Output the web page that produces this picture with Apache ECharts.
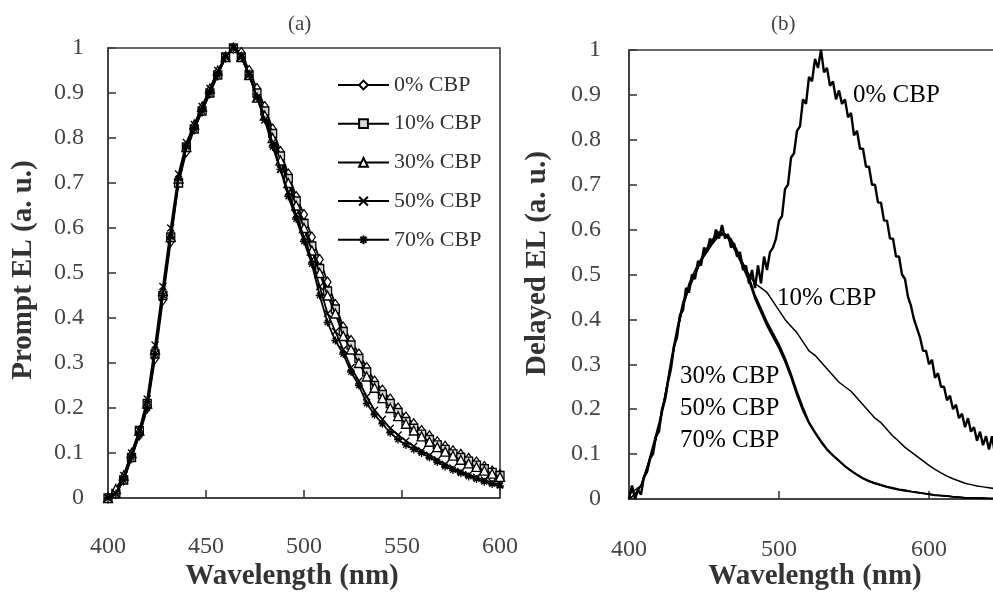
<!DOCTYPE html>
<html>
<head>
<meta charset="utf-8">
<script src="https://cdn.jsdelivr.net/npm/echarts@6/dist/echarts.min.js"></script>
<style>
  html, body { margin: 0; padding: 0; background: #fff; }
  #chart { width: 993px; height: 592px; }
</style>
</head>
<body>
<div id="chart"></div>
<script>
// ---------- Panel (a): prompt EL spectra, sampled every 4 nm ----------
const wlPrompt = [400,404,408,412,416,420,424,428,432,436,440,444,448,452,456,460,464,468,472,476,480,484,488,492,496,500,504,508,512,516,520,524,528,532,536,540,544,548,552,556,560,564,568,572,576,580,584,588,592,596,600];

const prompt0 = [0.00,0.01,0.04,0.09,0.14,0.20,0.31,0.44,0.57,0.70,0.77,0.82,0.86,0.90,0.94,0.98,1.00,0.99,0.95,0.91,0.87,0.82,0.77,0.72,0.67,0.63,0.58,0.53,0.48,0.43,0.38,0.35,0.32,0.29,0.26,0.24,0.22,0.20,0.18,0.165,0.15,0.138,0.125,0.115,0.105,0.097,0.088,0.08,0.07,0.06,0.052];
const prompt10 = [0.00,0.01,0.04,0.09,0.15,0.21,0.32,0.45,0.58,0.70,0.78,0.82,0.86,0.90,0.94,0.98,1.00,0.98,0.94,0.90,0.86,0.81,0.76,0.71,0.66,0.61,0.56,0.51,0.46,0.42,0.37,0.34,0.31,0.28,0.25,0.23,0.21,0.19,0.17,0.155,0.142,0.13,0.118,0.108,0.098,0.09,0.082,0.073,0.065,0.057,0.05];
const prompt30 = [0.00,0.02,0.05,0.10,0.15,0.21,0.33,0.46,0.58,0.71,0.78,0.83,0.87,0.91,0.95,0.98,1.00,0.98,0.94,0.89,0.85,0.80,0.75,0.70,0.65,0.60,0.55,0.50,0.45,0.41,0.36,0.33,0.30,0.27,0.245,0.222,0.20,0.182,0.165,0.15,0.137,0.125,0.113,0.103,0.094,0.085,0.077,0.069,0.061,0.054,0.047];
const prompt50 = [0.00,0.01,0.05,0.10,0.15,0.22,0.34,0.47,0.60,0.72,0.79,0.83,0.87,0.91,0.95,0.98,1.00,0.98,0.94,0.89,0.84,0.79,0.73,0.68,0.63,0.58,0.53,0.47,0.41,0.37,0.33,0.29,0.26,0.225,0.195,0.175,0.155,0.14,0.127,0.115,0.105,0.095,0.085,0.075,0.067,0.059,0.052,0.046,0.04,0.035,0.03];
const prompt70 = [0.00,0.01,0.04,0.09,0.14,0.20,0.32,0.45,0.58,0.71,0.78,0.82,0.86,0.90,0.94,0.98,1.00,0.98,0.94,0.89,0.84,0.78,0.73,0.67,0.62,0.57,0.52,0.45,0.39,0.35,0.32,0.28,0.25,0.21,0.185,0.165,0.145,0.13,0.118,0.108,0.10,0.09,0.08,0.07,0.062,0.055,0.048,0.042,0.036,0.031,0.027];

// ---------- Panel (b): delayed EL spectra ----------
const wlDelayed = [400,404,408,412,416,420,424,428,432,436,440,444,448,452,456,460,464,468,472,476,480,484,488,492,496,500,504,508,512,516,520,524,528,532,536,540,544,548,552,556,560,564,568,572,576,580,584,588,592,596,600,604,608,612,616,620,624,628,632,636,640,644,648];

const delayed10 = [0.00,0.01,0.03,0.07,0.11,0.16,0.23,0.30,0.37,0.43,0.47,0.50,0.53,0.555,0.575,0.59,0.59,0.575,0.55,0.525,0.50,0.48,0.47,0.46,0.44,0.42,0.40,0.385,0.37,0.35,0.33,0.32,0.305,0.29,0.275,0.26,0.25,0.24,0.225,0.21,0.195,0.18,0.17,0.155,0.14,0.128,0.115,0.105,0.095,0.085,0.075,0.066,0.058,0.051,0.045,0.04,0.035,0.032,0.029,0.027,0.025,0.023,0.022];
const delayed30 = [0.00,0.01,0.03,0.07,0.11,0.16,0.23,0.30,0.37,0.43,0.47,0.50,0.53,0.555,0.575,0.59,0.59,0.575,0.55,0.52,0.49,0.45,0.42,0.39,0.365,0.34,0.31,0.275,0.235,0.20,0.17,0.148,0.128,0.11,0.097,0.085,0.073,0.063,0.054,0.046,0.04,0.035,0.031,0.027,0.024,0.021,0.019,0.017,0.015,0.013,0.011,0.009,0.008,0.006,0.005,0.004,0.003,0.003,0.002,0.002,0.001,0.001,0.001];
const delayed50 = [0.00,0.01,0.03,0.06,0.11,0.16,0.22,0.30,0.37,0.43,0.48,0.51,0.535,0.56,0.58,0.595,0.59,0.57,0.545,0.515,0.485,0.445,0.415,0.385,0.36,0.335,0.305,0.27,0.23,0.195,0.168,0.146,0.126,0.109,0.096,0.084,0.072,0.062,0.053,0.045,0.039,0.034,0.03,0.026,0.023,0.02,0.018,0.016,0.014,0.012,0.01,0.008,0.007,0.006,0.005,0.004,0.003,0.002,0.002,0.001,0.001,0.001,0.001];
const delayed70 = [0.01,0.02,0.03,0.07,0.12,0.17,0.23,0.31,0.38,0.44,0.47,0.50,0.53,0.55,0.57,0.585,0.59,0.58,0.555,0.525,0.495,0.455,0.425,0.395,0.37,0.345,0.315,0.28,0.24,0.205,0.172,0.15,0.13,0.112,0.098,0.086,0.074,0.064,0.055,0.047,0.041,0.036,0.032,0.028,0.025,0.022,0.02,0.017,0.015,0.013,0.011,0.009,0.008,0.007,0.005,0.004,0.003,0.003,0.002,0.002,0.001,0.001,0.001];

// 0% CBP delayed trace, sampled every 2 nm (noisy)
const wlDelayed0 = [400,402,404,406,408,410,412,414,416,418,420,422,424,426,428,430,432,434,436,438,440,442,444,446,448,450,452,454,456,458,460,462,464,466,468,470,472,474,476,478,480,482,484,486,488,490,492,494,496,498,500,502,504,506,508,510,512,514,516,518,520,522,524,526,528,530,532,534,536,538,540,542,544,546,548,550,552,554,556,558,560,562,564,566,568,570,572,574,576,578,580,582,584,586,588,590,592,594,596,598,600,602,604,606,608,610,612,614,616,618,620,622,624,626,628,630,632,634,636,638,640,642,644,646,648,650];
const delayed0 = [0.00,0.03,0.00,0.02,0.01,0.05,0.06,0.09,0.10,0.14,0.15,0.20,0.22,0.26,0.29,0.34,0.36,0.41,0.42,0.47,0.46,0.50,0.49,0.53,0.52,0.56,0.55,0.58,0.57,0.60,0.58,0.61,0.58,0.59,0.56,0.57,0.54,0.55,0.51,0.52,0.48,0.51,0.47,0.52,0.48,0.54,0.51,0.55,0.56,0.58,0.62,0.63,0.69,0.70,0.76,0.77,0.82,0.83,0.89,0.88,0.94,0.93,0.98,0.96,1.00,0.95,0.96,0.92,0.93,0.89,0.91,0.88,0.89,0.85,0.86,0.81,0.82,0.78,0.78,0.74,0.74,0.70,0.70,0.66,0.66,0.62,0.62,0.58,0.58,0.54,0.54,0.50,0.49,0.45,0.43,0.40,0.38,0.36,0.33,0.33,0.30,0.31,0.27,0.28,0.25,0.25,0.22,0.23,0.20,0.21,0.18,0.19,0.16,0.18,0.15,0.16,0.13,0.15,0.12,0.14,0.11,0.14,0.10,0.13,0.10,0.12];

const promptNames = ['0% CBP', '10% CBP', '30% CBP', '50% CBP', '70% CBP'];
const delayedLabels = ['0% CBP', '10% CBP', '30% CBP', '50% CBP', '70% CBP'];
const xTitle = 'Wavelength (nm)';

const SERIF = 'Liberation Serif';
const AXIS_GREY = '#3a3a3a';
const LABEL_GREY = '#444';

const pairs = (xs, ys) => xs.map((x, i) => [x, ys[i]]);

// marker shapes for the prompt spectra
const crossPath = 'path://M0,0L10,10M10,0L0,10';
const asteriskPath = 'path://M5,0L5,10M0,5L10,5M1.5,1.5L8.5,8.5M8.5,1.5L1.5,8.5';

const promptStyles = [
  { symbol: 'diamond',   fill: '#fff', size: [7, 10] },
  { symbol: 'rect',      fill: '#d8d8d8', size: 8 },
  { symbol: 'triangle',  fill: '#fff', size: 9 },
  { symbol: crossPath,   fill: '#000', size: 7 },
  { symbol: asteriskPath, fill: '#000', size: 8 }
];
const promptData = [prompt0, prompt10, prompt30, prompt50, prompt70];

function axisCommon(gridIndex) {
  return {
    gridIndex: gridIndex,
    axisLine: { show: true, onZero: false, lineStyle: { color: AXIS_GREY, width: 1.6 } },
    axisTick: { show: true, inside: true, length: 8, lineStyle: { color: AXIS_GREY, width: 1.6 } },
    splitLine: { show: false }
  };
}

const series = [];
promptNames.forEach((name, i) => {
  const st = promptStyles[i];
  series.push({
    name: name,
    type: 'line',
    xAxisIndex: 0, yAxisIndex: 0,
    data: pairs(wlPrompt, promptData[i]),
    symbol: st.symbol,
    symbolSize: st.size,
    showAllSymbol: true,
    lineStyle: { color: '#000', width: 1.8 },
    itemStyle: { color: st.fill, borderColor: '#000', borderWidth: 1.3 },
    emphasis: { disabled: true },
    z: 2 + i
  });
});

const delayedSets = [
  { name: '0% CBP delayed', xs: wlDelayed0, ys: delayed0, w: 2.4 },
  { name: '10% CBP delayed', xs: wlDelayed, ys: delayed10, w: 1.5 },
  { name: '30% CBP delayed', xs: wlDelayed, ys: delayed30, w: 1.5 },
  { name: '50% CBP delayed', xs: wlDelayed, ys: delayed50, w: 1.5 },
  { name: '70% CBP delayed', xs: wlDelayed, ys: delayed70, w: 1.5 }
];
delayedSets.forEach(d => {
  series.push({
    name: d.name,
    type: 'line',
    xAxisIndex: 1, yAxisIndex: 1,
    data: pairs(d.xs, d.ys),
    showSymbol: false,
    lineStyle: { color: '#000', width: d.w },
    emphasis: { disabled: true }
  });
});

const yLabelFmt = v => {
  const r = Math.round(v * 10) / 10;
  return (r === 0 || r === 1) ? String(r) : r.toFixed(1);
};

const titleFont = 'bold 29px "Liberation Serif"';

const option = {
  animation: false,
  backgroundColor: '#fff',
  textStyle: { fontFamily: SERIF },
  grid: [
    { left: 108, top: 48, width: 392, height: 450, outerBoundsMode: 'none', containLabel: false,
      show: true, borderColor: AXIS_GREY, borderWidth: 1.6, backgroundColor: 'transparent' },
    // panel (b) runs on past the right edge of the canvas (axis up to 700 nm)
    { left: 629, top: 50, width: 450, height: 449, outerBoundsMode: 'none', containLabel: false,
      show: true, borderColor: AXIS_GREY, borderWidth: 1.6, backgroundColor: 'transparent' }
  ],
  xAxis: [
    Object.assign(axisCommon(0), {
      type: 'value', min: 400, max: 600, interval: 50,
      axisLabel: { color: LABEL_GREY, fontFamily: SERIF, fontSize: 24, margin: 37 }
    }),
    Object.assign(axisCommon(1), {
      type: 'value', min: 400, max: 700, interval: 100,
      axisLabel: { color: LABEL_GREY, fontFamily: SERIF, fontSize: 24, margin: 39 }
    })
  ],
  yAxis: [
    Object.assign(axisCommon(0), {
      type: 'value', min: 0, max: 1, interval: 0.1,
      axisLabel: { color: LABEL_GREY, fontFamily: SERIF, fontSize: 24, margin: 24, formatter: yLabelFmt },
      name: 'Prompt EL (a. u.)', nameLocation: 'middle', nameGap: 70,
      nameTextStyle: { fontFamily: SERIF, fontWeight: 'bold', fontSize: 29, color: '#333', padding: [0, 0, 0, 6] }
    }),
    Object.assign(axisCommon(1), {
      type: 'value', min: 0, max: 1, interval: 0.1,
      axisLabel: { color: LABEL_GREY, fontFamily: SERIF, fontSize: 24, margin: 28, formatter: yLabelFmt },
      name: 'Delayed EL (a. u.)', nameLocation: 'middle', nameGap: 77,
      nameTextStyle: { fontFamily: SERIF, fontWeight: 'bold', fontSize: 29, color: '#333', padding: [0, 0, 0, 22] }
    })
  ],
  legend: {
    data: promptNames,
    orient: 'vertical',
    left: 332, top: 68,
    itemWidth: 51, itemHeight: 11,
    itemGap: 14.7,
    selectedMode: false,
    textStyle: { fontFamily: SERIF, fontSize: 22, color: '#333', lineHeight: 24 }
  },
  graphic: [
    { type: 'text', left: 288, top: 14, style: { text: '(a)', font: '21px "Liberation Serif"', fill: LABEL_GREY } },
    { type: 'text', left: 771, top: 14, style: { text: '(b)', font: '21px "Liberation Serif"', fill: LABEL_GREY } },
    { type: 'text', x: 292, y: 562, style: { text: xTitle, font: titleFont, fill: '#333', align: 'center', verticalAlign: 'top' } },
    { type: 'text', x: 815, y: 562, style: { text: xTitle, font: titleFont, fill: '#333', align: 'center', verticalAlign: 'top' } },
    { type: 'text', left: 853, top: 83, style: { text: delayedLabels[0], font: '25px "Liberation Serif"', fill: '#000' } },
    { type: 'text', left: 777, top: 286, style: { text: delayedLabels[1], font: '25px "Liberation Serif"', fill: '#000' } },
    { type: 'text', left: 680, top: 364, style: { text: delayedLabels[2], font: '25px "Liberation Serif"', fill: '#000' } },
    { type: 'text', left: 680, top: 396, style: { text: delayedLabels[3], font: '25px "Liberation Serif"', fill: '#000' } },
    { type: 'text', left: 680, top: 428, style: { text: delayedLabels[4], font: '25px "Liberation Serif"', fill: '#000' } }
  ],
  series: series
};

const chart = echarts.init(document.getElementById('chart'), null, { renderer: 'canvas' });
chart.setOption(option);
</script>
</body>
</html>
